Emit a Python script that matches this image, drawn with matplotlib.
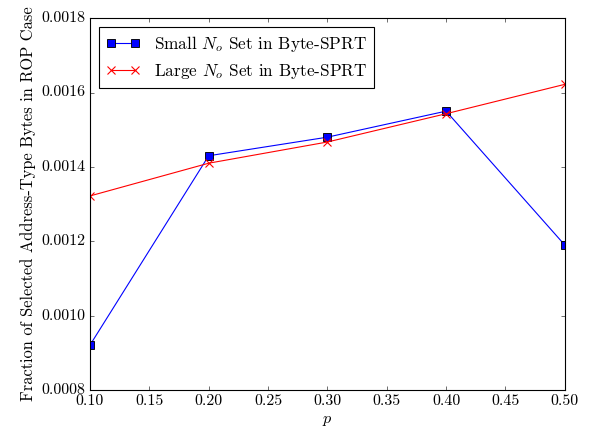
import matplotlib
matplotlib.use("Agg")
import matplotlib.pyplot as plt

p = [0.1, 0.2, 0.3, 0.4, 0.5]
small_no = [0.000921, 0.001430, 0.001480, 0.001550, 0.001190]
large_no = [0.001322, 0.001410, 0.001467, 0.001543, 0.001622]
xticks = [0.10, 0.15, 0.20, 0.25, 0.30, 0.35, 0.40, 0.45, 0.50]
yticks = [0.0008, 0.0010, 0.0012, 0.0014, 0.0016, 0.0018]

plt.style.use('classic')
plt.rcParams['font.family'] = 'serif'
plt.rcParams['font.serif'] = ['cmr10', 'DejaVu Serif']
plt.rcParams['mathtext.fontset'] = 'cm'
plt.rcParams['axes.unicode_minus'] = False

fig = plt.figure(figsize=(7.4, 5.4), dpi=80, facecolor='white')
ax = fig.add_axes([0.152, 0.097, 0.802, 0.861])
ax.plot(p, small_no, color='blue', marker='s', markersize=7, linewidth=1,
        markeredgecolor='black', markeredgewidth=0.8,
        label=r'Small $N_o$ Set in Byte-SPRT')
ax.plot(p, large_no, color='red', marker='x', markersize=7, linewidth=1,
        markeredgewidth=1,
        label=r'Large $N_o$ Set in Byte-SPRT')
ax.set_xlim(0.1, 0.5)
ax.set_ylim(0.0008, 0.0018)
ax.set_xticks(xticks)
ax.set_xticklabels([f'{t:.2f}' for t in xticks])
ax.set_yticks(yticks)
ax.set_yticklabels([f'{t:.4f}' for t in yticks])
ax.tick_params(labelsize=14.3)
ax.set_xlabel(r'$p$', fontsize=14.5)
ax.set_ylabel('Fraction of Selected Address-Type Bytes in ROP Case', fontsize=14.8)
ax.legend(loc='upper left', fontsize=15.5, numpoints=2, fancybox=False,
          handlelength=2.0, borderaxespad=0.5)
fig.savefig('out.png', dpi=80, facecolor='white')
